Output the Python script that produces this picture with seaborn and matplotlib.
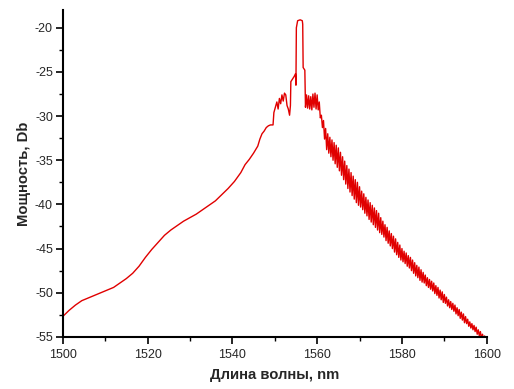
import matplotlib
matplotlib.use("Agg")
import matplotlib.pyplot as plt
import seaborn as sns
import pandas as pd
from matplotlib.ticker import MultipleLocator

# Spectrum: wavelength (nm) and power (dB)
wl_left = [1500.0, 1501.5, 1503.0, 1504.5, 1506.0, 1507.5, 1509.0, 1510.5, 1512.0, 1513.5,
           1515.0, 1516.5, 1518.0, 1519.5, 1521.0, 1522.5, 1524.0, 1525.5, 1527.0, 1528.5,
           1530.0, 1531.5, 1533.0, 1534.5, 1536.0, 1537.5, 1539.0, 1540.5, 1542.0, 1543.0,
           1544.0, 1545.0, 1546.0, 1546.5, 1547.0, 1547.5, 1548.0, 1548.5, 1549.0, 1549.6]
pw_left = [-52.7, -52.0, -51.4, -50.9, -50.6, -50.3, -50.0, -49.7, -49.4, -48.9,
           -48.4, -47.8, -47.0, -46.0, -45.1, -44.3, -43.5, -42.9, -42.4, -41.9,
           -41.5, -41.1, -40.6, -40.1, -39.6, -38.9, -38.2, -37.4, -36.4, -35.5,
           -34.9, -34.2, -33.4, -32.6, -32.0, -31.7, -31.3, -31.1, -31.0, -31.0]

wl_peak = [1549.8, 1550.2, 1550.5, 1550.8, 1551.1, 1551.4, 1551.7, 1552.0, 1552.3, 1552.6,
           1552.9, 1553.2, 1553.5, 1553.7, 1553.8, 1554.2, 1554.6, 1554.9, 1555.0, 1555.1,
           1555.4, 1556.0, 1556.5, 1556.6, 1556.7, 1557.1]
pw_peak = [-29.6, -28.9, -28.4, -29.2, -28.0, -28.6, -27.6, -28.3, -27.4, -27.6,
           -28.8, -29.2, -29.9, -28.8, -26.1, -25.8, -25.5, -25.2, -26.5, -20.0,
           -19.2, -19.1, -19.2, -19.6, -24.5, -24.8]

wl_shoulder = [1557.25, 1557.50, 1557.75, 1558.00, 1558.25, 1558.50, 1558.75, 1559.00,
               1559.25, 1559.50, 1559.75, 1560.00, 1560.25, 1560.50, 1560.75, 1561.00,
               1561.25, 1561.50, 1561.75, 1562.00, 1562.25, 1562.50, 1562.75, 1563.00,
               1563.25, 1563.50, 1563.75, 1564.00, 1564.25, 1564.50, 1564.75]
pw_shoulder = [-29.0, -27.6, -29.1, -27.7, -29.2, -27.8, -29.3, -27.5,
               -29.0, -27.4, -29.2, -27.6, -29.3, -28.4, -30.2, -29.9,
               -31.3, -30.5, -32.6, -31.4, -33.8, -32.0, -34.2, -32.4,
               -34.6, -32.7, -35.0, -33.0, -35.4, -33.3, -35.8]

wl_right = [1565.00, 1565.25, 1565.50, 1565.75, 1566.00, 1566.25, 1566.50, 1566.75,
            1567.00, 1567.25, 1567.50, 1567.75, 1568.00, 1568.25, 1568.50, 1568.75,
            1569.00, 1569.25, 1569.50, 1569.75, 1570.00, 1570.25, 1570.50, 1570.75,
            1571.00, 1571.25, 1571.50, 1571.75, 1572.00, 1572.25, 1572.50, 1572.75,
            1573.00, 1573.25, 1573.50, 1573.75, 1574.00, 1574.25, 1574.50, 1574.75,
            1575.00, 1575.25, 1575.50, 1575.75, 1576.00, 1576.25, 1576.50, 1576.75,
            1577.00, 1577.25, 1577.50, 1577.75, 1578.00, 1578.25, 1578.50, 1578.75,
            1579.00, 1579.25, 1579.50, 1579.75, 1580.00, 1580.25, 1580.50, 1580.75,
            1581.00, 1581.25, 1581.50, 1581.75, 1582.00, 1582.25, 1582.50, 1582.75,
            1583.00, 1583.25, 1583.50, 1583.75, 1584.00, 1584.25, 1584.50, 1584.75,
            1585.00, 1585.25, 1585.50, 1585.75, 1586.00, 1586.25, 1586.50, 1586.75,
            1587.00, 1587.25, 1587.50, 1587.75, 1588.00, 1588.25, 1588.50, 1588.75,
            1589.00, 1589.25, 1589.50, 1589.75, 1590.00, 1590.25, 1590.50, 1590.75,
            1591.00, 1591.25, 1591.50, 1591.75, 1592.00, 1592.25, 1592.50, 1592.75,
            1593.00, 1593.25, 1593.50, 1593.75, 1594.00, 1594.25, 1594.50, 1594.75,
            1595.00, 1595.25, 1595.50, 1595.75, 1596.00, 1596.25, 1596.50, 1596.75,
            1597.00, 1597.25, 1597.50, 1597.75, 1598.00, 1598.25, 1598.50, 1598.75,
            1599.00, 1599.25, 1599.50, 1599.75, 1600.00]
pw_right = [-33.6, -36.2, -34.1, -36.7, -34.6, -37.2, -35.1, -37.7,
            -35.6, -38.2, -36.0, -38.6, -36.4, -39.0, -36.8, -39.4,
            -37.2, -39.8, -37.5, -40.1, -38.0, -40.3, -38.5, -40.6,
            -38.8, -41.0, -39.2, -41.3, -39.5, -41.7, -39.8, -42.0,
            -40.1, -42.3, -40.4, -42.6, -40.7, -42.9, -41.0, -43.2,
            -41.5, -43.4, -41.9, -43.7, -42.3, -44.1, -42.6, -44.4,
            -43.0, -44.7, -43.3, -45.0, -43.6, -45.4, -43.9, -45.7,
            -44.3, -46.0, -44.6, -46.3, -45.0, -46.5, -45.3, -46.7,
            -45.5, -47.0, -45.8, -47.2, -46.0, -47.5, -46.3, -47.8,
            -46.6, -48.1, -46.9, -48.3, -47.1, -48.6, -47.4, -48.8,
            -47.7, -48.9, -48.0, -49.2, -48.3, -49.4, -48.5, -49.6,
            -48.7, -49.8, -48.9, -50.1, -49.2, -50.3, -49.4, -50.6,
            -49.7, -50.8, -49.9, -51.1, -50.2, -51.2, -50.5, -51.5,
            -50.8, -51.7, -51.0, -51.9, -51.2, -52.1, -51.4, -52.4,
            -51.7, -52.6, -51.9, -52.9, -52.2, -53.1, -52.4, -53.4,
            -52.7, -53.5, -53.0, -53.8, -53.3, -54.0, -53.5, -54.2,
            -53.7, -54.4, -53.9, -54.7, -54.2, -54.9, -54.4, -55.2,
            -54.7, -55.4, -54.9, -55.6, -55.1]

df = pd.DataFrame({"wl": wl_left + wl_peak + wl_shoulder + wl_right,
                   "power": pw_left + pw_peak + pw_shoulder + pw_right})

sns.set_theme(style="ticks")
plt.rcParams['font.family'] = ['Liberation Sans', 'DejaVu Sans']
plt.rcParams['axes.unicode_minus'] = False

fig = plt.figure(figsize=(5.14, 3.89), dpi=100)
ax = fig.add_axes([0.122, 0.134, 0.825, 0.84])

sns.lineplot(data=df, x="wl", y="power", sort=False, estimator=None,
             color="#e00000", linewidth=1.0, ax=ax)

ax.set_xlim(1500, 1600)
ax.set_ylim(-55, -18)
ax.xaxis.set_major_locator(MultipleLocator(20))
ax.xaxis.set_minor_locator(MultipleLocator(10))
ax.yaxis.set_major_locator(MultipleLocator(5))
ax.yaxis.set_minor_locator(MultipleLocator(2.5))
ax.tick_params(which="major", direction="out", length=5, width=1.2, labelsize=9, color="black")
ax.tick_params(which="minor", direction="out", length=3, width=1.0, color="black")
ax.tick_params(axis="y", pad=2)
ax.tick_params(axis="x", pad=4)

for side in ["top", "right"]:
    ax.spines[side].set_visible(False)
for side in ["left", "bottom"]:
    ax.spines[side].set_linewidth(1.5)
    ax.spines[side].set_color("black")

ax.set_xlabel("Длина волны, nm", fontsize=10.7, fontweight="bold", labelpad=5)
ax.set_ylabel("Мощность, Db", fontsize=10.7, fontweight="bold", labelpad=3)

fig.savefig("out.png", dpi=100, facecolor="white")
